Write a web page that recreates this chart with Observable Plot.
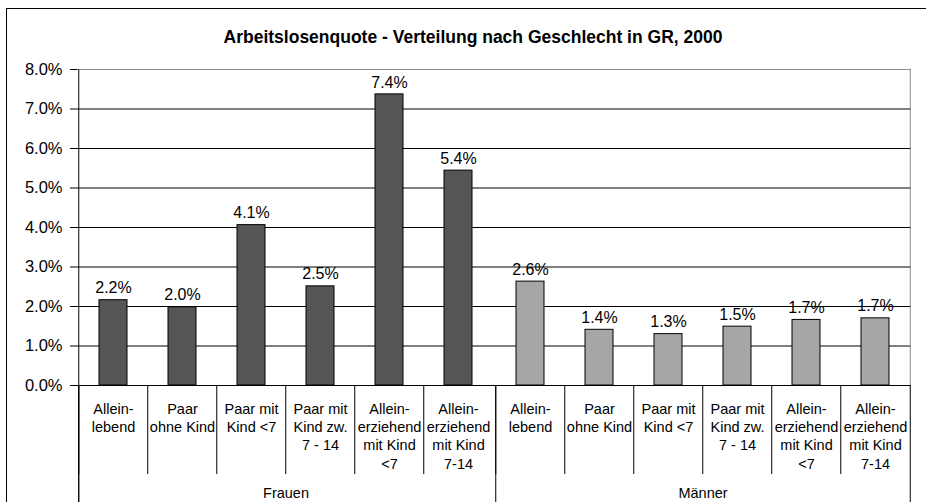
<!DOCTYPE html>
<html>
<head>
<meta charset="utf-8">
<script src="https://cdn.jsdelivr.net/npm/d3@7"></script>
<script src="https://cdn.jsdelivr.net/npm/@observablehq/plot@0.6"></script>
<style>
  html, body { margin: 0; padding: 0; background: #fff; overflow: hidden; }
  #wrap { position: relative; width: 926px; height: 502px; overflow: hidden;
          font-family: "Liberation Sans", Arial, sans-serif; }
  #border { position: absolute; left: 6px; top: 8px; width: 980px; height: 560px;
            border: 1.5px solid #000; box-sizing: border-box; pointer-events: none; }
  #title { position: absolute; left: 0; width: 946px; top: 27px; line-height: 20px;
           text-align: center; font-weight: bold; font-size: 17.5px; color: #000; }
  #chart { position: absolute; left: 0; top: 0; }
</style>
</head>
<body>
<div id="wrap">
  <div id="chart"></div>
  <div id="border"></div>
  <div id="title">Arbeitslosenquote - Verteilung nach Geschlecht in GR, 2000</div>
</div>
<script>
// ---- data ----
const groups = ["Frauen", "Männer"];
const categories = [
  "Allein-\nlebend",
  "Paar\nohne Kind",
  "Paar mit\nKind <7",
  "Paar mit\nKind zw.\n7 - 14",
  "Allein-\nerziehend\nmit Kind\n<7",
  "Allein-\nerziehend\nmit Kind\n7-14"
];
const valuesFrauen = [2.16, 1.98, 4.06, 2.51, 7.37, 5.44];
const valuesMaenner = [2.63, 1.41, 1.30, 1.49, 1.66, 1.70];
const yTicks = [0, 1, 2, 3, 4, 5, 6, 7, 8];
const groupColors = ["#555555", "#a6a6a6"];

const seriesByGroup = {"Frauen": valuesFrauen, "Männer": valuesMaenner};
const rows = groups.flatMap(g => categories.map((c, i) => ({group: g, category: c, value: seriesByGroup[g][i]})));

// ---- layout ----
const W = 926, H = 502;
const mL = 77, mR = 15, mT = 69, mB = 117;
const plotH = H - mT - mB;
const step = (W - mL - mR) / groups.length / categories.length;
const font = "Liberation Sans, Arial, sans-serif";

const firstCat = categories[0];
const lastCat = categories[categories.length - 1];

const chart = Plot.plot({
  width: W,
  height: H,
  marginLeft: mL,
  marginRight: mR,
  marginTop: mT,
  marginBottom: mB,
  style: {fontFamily: font, fontSize: "14px", background: "transparent", overflow: "visible", color: "#000"},
  fx: {domain: groups, padding: 0, axis: null, label: null},
  x: {domain: categories, paddingInner: 0.6, paddingOuter: 0.3, axis: null, label: null},
  y: {domain: [0, 8], label: null},
  color: {domain: groups, range: groupColors},
  marks: [
    // gridlines
    Plot.ruleY(yTicks.slice(1, -1), {y: d => d, stroke: "#000", strokeWidth: 1}),
    // plot area top border
    Plot.ruleY([yTicks[yTicks.length - 1]], {y: d => d, stroke: "#8c8c8c", strokeWidth: 1}),
    // plot area right border
    Plot.ruleX([{group: groups[groups.length - 1], category: lastCat}], {
      fx: "group", x: "category", dx: step / 2, stroke: "#8c8c8c", strokeWidth: 1
    }),
    // bars
    Plot.barY(rows, {fx: "group", x: "category", y: "value", fill: "group", stroke: "#000", strokeWidth: 1}),
    // value labels
    Plot.text(rows, {
      fx: "group", x: "category", y: "value",
      text: d => d.value.toFixed(1) + "%",
      dy: -12, fontSize: 16, fill: "#000"
    }),
    // baseline
    Plot.ruleY([0], {y: d => d, stroke: "#000", strokeWidth: 1}),
    // y axis line (left of plot area, down to bottom)
    Plot.ruleX([{group: groups[0], category: firstCat}], {
      fx: "group", x: "category", dx: -step / 2, insetBottom: -mB, stroke: "#000", strokeWidth: 1
    }),
    // category cell separators
    Plot.ruleX(categories, {
      x: d => d, dx: -step / 2, insetTop: plotH, insetBottom: -(mB - 28), stroke: "#000", strokeWidth: 1
    }),
    // group separators (full depth)
    Plot.ruleX([firstCat], {
      x: d => d, dx: -step / 2, insetTop: plotH, insetBottom: -mB, stroke: "#000", strokeWidth: 1
    }),
    Plot.ruleX([{group: groups[groups.length - 1], category: lastCat}], {
      fx: "group", x: "category", dx: step / 2, insetTop: plotH, insetBottom: -mB, stroke: "#000", strokeWidth: 1
    }),
    // y axis
    Plot.axisY(yTicks, {
      tickFormat: d => d.toFixed(1) + "%",
      tickSize: 7, tickPadding: 8, fontSize: 16.5, label: null, stroke: "#000", fill: "#000"
    }),
    // category labels
    Plot.text(categories, {
      x: d => d, text: d => d, frameAnchor: "bottom", lineAnchor: "top",
      dy: 15, fontSize: 14.5, lineHeight: 1.27, fill: "#000"
    }),
    // group labels
    Plot.text(groups, {
      fx: d => d, text: d => d, frameAnchor: "bottom", lineAnchor: "middle",
      dy: 108, fontSize: 14.5, fill: "#000"
    })
  ]
});
document.getElementById("chart").appendChild(chart);
</script>
</body>
</html>
